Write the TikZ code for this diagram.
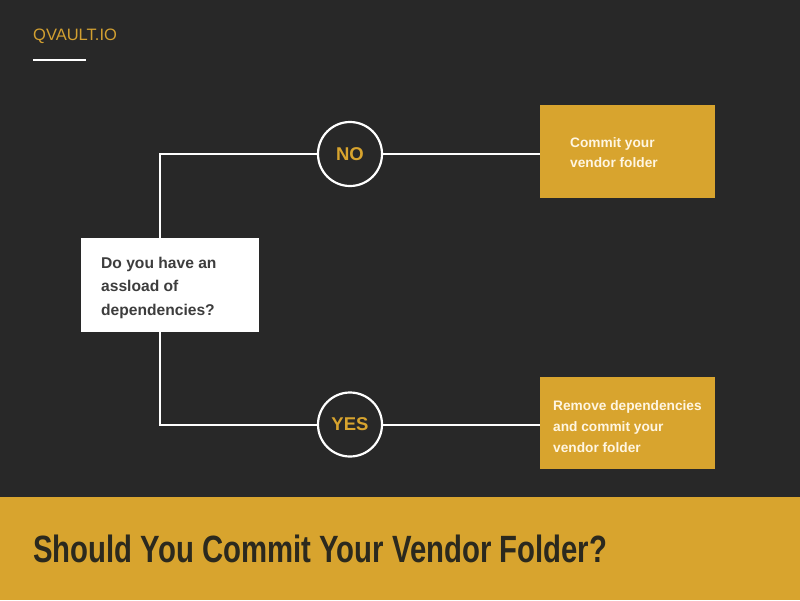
\documentclass[tikz,border=0pt]{standalone}
\usepackage{fontspec}
\setmainfont{Liberation Sans}
\usepackage{graphicx}
\definecolor{bg}{HTML}{282828}
\definecolor{gold}{HTML}{D8A42E}
\definecolor{logogold}{HTML}{D2A031}
\definecolor{qtext}{HTML}{3D3D3D}
\definecolor{ttext}{HTML}{2B291E}
\definecolor{btext}{HTML}{FFF6E2}
\tikzset{
  conn/.style={draw=white, line width=2pt},
  answer/.style={circle, draw=white, line width=2.2pt, minimum size=64pt, inner sep=0pt, text=gold, font=\fontsize{18.5}{18.5}\selectfont\bfseries},
  goldbox/.style={fill=gold, draw=none, inner sep=0pt, anchor=north west},
  qbox/.style={fill=white, draw=none, inner sep=0pt, anchor=north west},
  qline/.style={anchor=base west, inner sep=0pt, text=qtext, font=\fontsize{15.6}{15.6}\selectfont\bfseries},
  bline/.style={anchor=base west, inner sep=0pt, text=btext, font=\fontsize{13.7}{13.7}\selectfont\bfseries},
}
\begin{document}
\begin{tikzpicture}[x=1pt,y=-1pt]
\fill[bg] (0,0) rectangle (800,600);
\useasboundingbox (0,0) rectangle (800,600);
% logo
\node[anchor=base west, inner sep=0pt, text=logogold, font=\fontsize{16.5}{16.5}\selectfont] (logo) at (33,40) {QVAULT.IO};
\draw[white, line width=2pt] (33,60) -- (86,60);
% question box
\node[qbox, minimum width=178pt, minimum height=94pt] (q) at (81,238) {};
\node[qline] (q1) at (101,268) {Do you have an};
\node[qline] (q2) at (101,291.5) {assload of};
\node[qline] (q3) at (101,315) {dependencies?};
% answers
\node[answer] (no) at (350,154) {NO};
\node[answer] (yes) at (350,424.5) {YES};
% result boxes
\node[goldbox, minimum width=175pt, minimum height=93pt] (b1) at (540,105) {};
\node[bline] (b1a) at (570,147) {Commit your};
\node[bline] (b1b) at (570,167) {vendor folder};
\node[goldbox, minimum width=175pt, minimum height=92pt] (b2) at (540,377) {};
\node[bline] (b2a) at (553,410) {Remove dependencies};
\node[bline] (b2b) at (553,431) {and commit your};
\node[bline] (b2c) at (553,452) {vendor folder};
% connectors
\draw[conn] ([xshift=79pt]q.north west) |- (no.west);
\draw[conn] ([xshift=79pt]q.south west) |- (yes.west);
\draw[conn] (no.east) -- (no.east -| b1.west);
\draw[conn] (yes.east) -- (yes.east -| b2.west);
% footer
\fill[gold] (0,497) rectangle (800,600);
\node[anchor=base west, inner sep=0pt, text=ttext] (title) at (33,562)
  {\resizebox{574pt}{\height}{\fontsize{38}{38}\selectfont\bfseries Should You Commit Your Vendor Folder?}};
\end{tikzpicture}
\end{document}
